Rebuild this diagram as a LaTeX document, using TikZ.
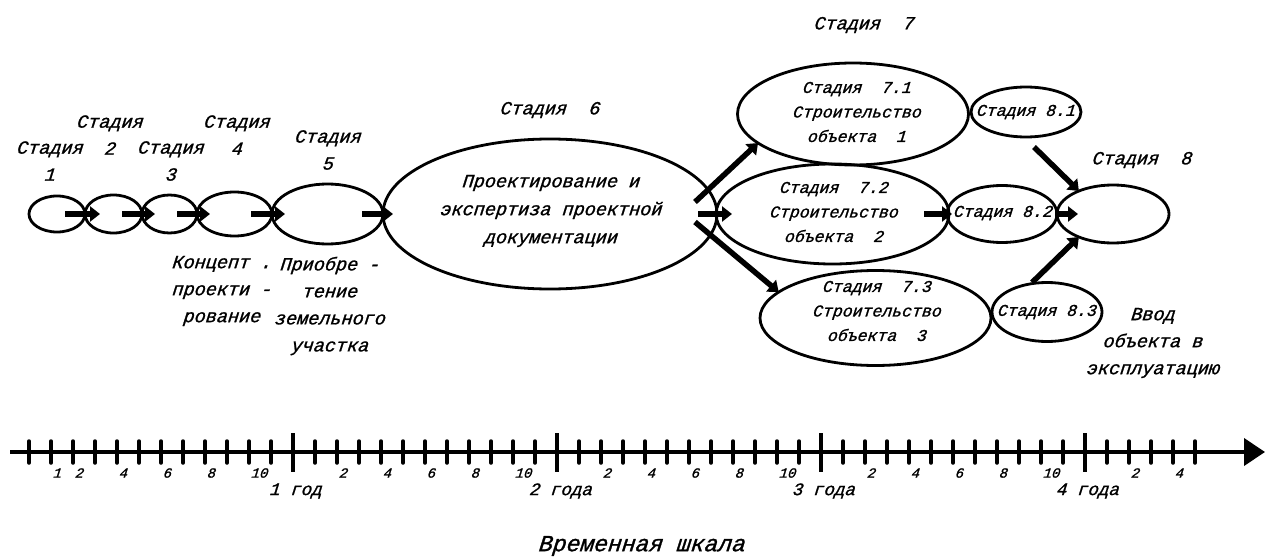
\documentclass[tikz,border=0pt]{standalone}
\usepackage{fontspec}
\newfontfamily\monoit{Liberation Mono Italic}[FakeBold=1.2, FakeSlant=0.12]
\usetikzlibrary{shapes.geometric,arrows.meta}

\tikzset{
  ov/.style={draw, ellipse, line width=2.8pt, inner sep=0pt, outer sep=0pt},
  lbl/.style={font=\monoit\fontsize{18.5}{27}\selectfont, align=center, inner sep=0pt},
  inlbl/.style={font=\monoit\fontsize{16.5}{24.5}\selectfont, align=center, inner sep=0pt},
  numlbl/.style={font=\monoit\fontsize{14}{14}\selectfont, inner sep=0pt},
  yrlbl/.style={font=\monoit\fontsize{17.5}{17.5}\selectfont, inner sep=0pt},
  flow/.style={line width=5.5pt, -{Triangle[length=10pt,width=15pt]}},
  mtick/.style={line width=3.5pt, line cap=round},
  ytick/.style={line width=4pt},
}

\begin{document}
\begin{tikzpicture}[x=1pt,y=-1pt]
\fill[white] (0,0) rectangle (1266,559);
\useasboundingbox (0,0) rectangle (1266,559);

% stages 1-6
\node[ov, minimum width=56pt,  minimum height=36pt]  (e1) at (57,214) {};
\node[ov, minimum width=57pt,  minimum height=38pt]  (e2) at (113.5,214) {};
\node[ov, minimum width=55pt,  minimum height=38pt]  (e3) at (169.5,214) {};
\node[ov, minimum width=75pt,  minimum height=44pt]  (e4) at (234.5,214) {};
\node[ov, minimum width=111pt, minimum height=60pt]  (e5) at (327.5,214) {};
\node[ov, minimum width=334pt, minimum height=150pt] (e6) at (550,214) {};

% stage 7 branches
\node[ov, minimum width=231pt, minimum height=102pt] (e71) at (853,114) {};
\node[ov, minimum width=233pt, minimum height=100pt] (e72) at (832.5,214) {};
\node[ov, minimum width=231pt, minimum height=95pt]  (e73) at (875.5,318) {};

% stage 8 branches and final stage
\node[ov, minimum width=110pt, minimum height=50pt] (e81) at (1026,112) {};
\node[ov, minimum width=110pt, minimum height=57pt] (e82) at (1002,214) {};
\node[ov, minimum width=110pt, minimum height=59pt] (e83) at (1047,312) {};
\node[ov, minimum width=112pt, minimum height=58pt] (e8)  at (1113,214) {};

% texts inside the ovals
\node[lbl, font=\monoit\fontsize{18.5}{28}\selectfont] (t6) at (551,211)
  {Проектирование и\\экспертиза проектной\\документации};
\node[inlbl] (t71) at (857,112) {Стадия~~7.1\\Строительство\\объекта~~1};
\node[inlbl] (t72) at (834,212) {Стадия~~7.2\\Строительство\\объекта~~2};
\node[inlbl] (t73) at (877,311) {Стадия~~7.3\\Строительство\\объекта~~3};
\node[inlbl] (t81) at (1026,112) {Стадия 8.1};
\node[inlbl] (t82) at (1003,213) {Стадия 8.2};
\node[inlbl] (t83) at (1047,312) {Стадия 8.3};

% stage captions
\node[lbl] (s1) at (50,161)  {Стадия\\1};
\node[lbl] (s2) at (110,135) {Стадия\\2};
\node[lbl] (s3) at (171,161) {Стадия\\3};
\node[lbl] (s4) at (237,135) {Стадия\\4};
\node[lbl] (s5) at (328,150) {Стадия\\5};
\node[lbl] (s6) at (550,110) {Стадия~~6};
\node[lbl] (s7) at (864,25)  {Стадия~~7};
\node[lbl] (s8) at (1142,160) {Стадия~~8};

% descriptions below
\node[lbl] (c4) at (222,291) {Концепт .\\проекти -\\рование};
\node[lbl] (c5) at (330,306) {Приобре -\\тение\\земельного\\участка};
\node[lbl] (c8) at (1153,343) {Ввод\\объекта в\\эксплуатацию};

% flow arrows
\draw[flow] ([xshift=-20]e1.east) -- ([xshift=15]e2.west);
\draw[flow] ([xshift=-20]e2.east) -- ([xshift=13]e3.west);
\draw[flow] ([xshift=-20]e3.east) -- ([xshift=13]e4.west);
\draw[flow] ([xshift=-21]e4.east) -- ([xshift=13]e5.west);
\draw[flow] ([xshift=-21]e5.east) -- ([xshift=10]e6.west);
\draw[flow] ([xshift=-19]e6.east) -- ([xshift=16]e72.west);
\draw[flow] ([shift={(-22,-12)}]e6.east) -- (e71.197);
\draw[flow] ([shift={(-22,8)}]e6.east) -- (e73.165);
\draw[flow] ([xshift=-25]e72.east) -- ([xshift=5]e82.west);
\draw[flow] ([xshift=-2]e82.east) -- ([xshift=21]e8.west);
\draw[flow] ([shift={(8,10)}]e81.south) -- (e8.146);
\draw[flow] ([shift={(-15,0)}]e83.north) -- (e8.214);

% time axis
\coordinate (ax0) at (10,452);
\coordinate (ax1) at (1265,452);
\draw[line width=4pt, -{Triangle[length=21pt,width=27pt]}] (ax0) -- (ax1);
\foreach \k in {0,...,53}
  \draw[mtick] (29+22*\k,441) -- (29+22*\k,463);
\foreach \k in {12,24,36,48}
  \draw[ytick] (29+22*\k,433) -- (29+22*\k,472);

% month numbers
\foreach \m in {1,2,4,6,8,10}
  \node[numlbl, anchor=west] (m0-\m) at (31+22*\m,473) {\m};
\foreach \yy in {1,2,3}
  \foreach \m in {2,4,6,8,10}
    \node[numlbl, anchor=west] (m\yy-\m) at (31+22*\m+264*\yy,473) {\m};
\foreach \m in {2,4}
  \node[numlbl, anchor=west] (m4-\m) at (31+22*\m+1056,473) {\m};

% years
\node[yrlbl] (y1) at (296,491)  {1 год};
\node[yrlbl] (y2) at (561,491)  {2 года};
\node[yrlbl] (y3) at (824,491)  {3 года};
\node[yrlbl] (y4) at (1088,491) {4 года};

\node[font=\monoit\fontsize{23}{23}\selectfont, inner sep=0pt] (ttl) at (642,546) {Временная шкала};
\end{tikzpicture}
\end{document}
